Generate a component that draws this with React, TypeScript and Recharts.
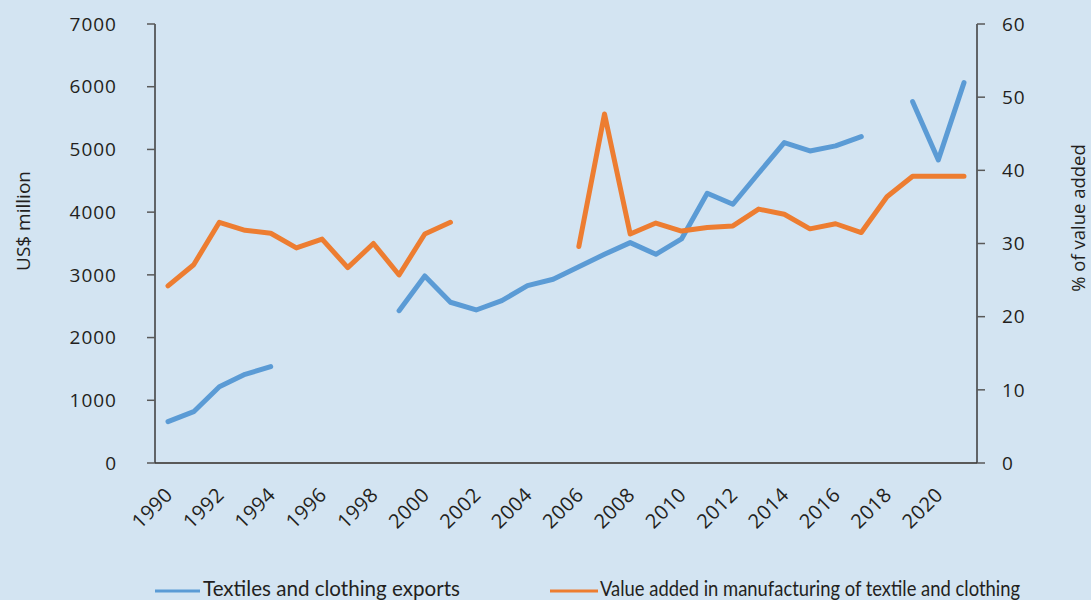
import React from 'react';
import { LineChart, Line, XAxis, YAxis, Legend } from 'recharts';

const years: string[] = [
  '1990', '1991', '1992', '1993', '1994', '1995', '1996', '1997', '1998', '1999',
  '2000', '2001', '2002', '2003', '2004', '2005', '2006', '2007', '2008', '2009',
  '2010', '2011', '2012', '2013', '2014', '2015', '2016', '2017', '2018', '2019',
  '2020', '2021',
];

const exportsUSD: (number | null)[] = [
  659, 818, 1217, 1414, 1536, null, null, null, null, 2429,
  2982, 2563, 2440, 2589, 2828, 2930, 3131, 3328, 3514, 3328,
  3573, 4302, 4126, 4620, 5109, 4976, 5056, 5204, null, 5762,
  4833, 6065,
];

const valueAddedPct: (number | null)[] = [
  24.2, 27.1, 32.9, 31.8, 31.4, 29.4, 30.6, 26.7, 30.0, 25.7,
  31.3, 32.9, null, null, null, null, 29.6, 47.7, 31.3, 32.8,
  31.7, 32.2, 32.4, 34.7, 34.0, 32.0, 32.7, 31.5, 36.4, 39.2,
  39.2, 39.2,
];

const leftTicks = [0, 1000, 2000, 3000, 4000, 5000, 6000, 7000];
const rightTicks = [0, 10, 20, 30, 40, 50, 60];

const seriesNames = [
  'Textiles and clothing exports',
  'Value added in manufacturing of textile and clothing',
];

const data = years.map((year, i) => ({
  year,
  exports: exportsUSD[i],
  valueAdded: valueAddedPct[i],
}));

const BG = '#d3e4f2';
const BLUE = '#5b9bd5';
const ORANGE = '#ed7d31';
const TEXT = '#231f20';
const AXIS = '#3a3a3a';
const FONT = '"Open Sans", sans-serif';

const XTick = (props: any) => {
  const { x, y, payload } = props;
  const ax = x + 6;
  const ay = y + 25;
  return (
    <text
      x={ax}
      y={ay}
      transform={`rotate(-45 ${ax} ${ay})`}
      textAnchor="end"
      fill={TEXT}
      fontSize={20}
      fontFamily={FONT}
      letterSpacing={0.5}
    >
      {payload.value}
    </text>
  );
};

const LegendContent = () => (
  <svg width={1091} height={40} style={{ display: 'block' }}>
    <line x1={155} x2={200} y1={21} y2={21} stroke={BLUE} strokeWidth={3} />
    <text x={203} y={26} fontFamily="Lato, sans-serif" fontSize={21} fill={TEXT} textLength={257} lengthAdjust="spacingAndGlyphs">
      {seriesNames[0]}
    </text>
    <line x1={550} x2={598} y1={21} y2={21} stroke={ORANGE} strokeWidth={3} />
    <text x={600} y={26} fontFamily="Lato, sans-serif" fontSize={21} fill={TEXT} textLength={420} lengthAdjust="spacingAndGlyphs">
      {seriesNames[1]}
    </text>
  </svg>
);

export default function App() {
  return (
    <div style={{ position: 'absolute', left: 0, top: 0, width: 1091, height: 600, background: BG, overflow: 'hidden' }}>
      <LineChart
        width={1091}
        height={600}
        data={data}
        margin={{ top: 24, right: 0, bottom: 0, left: 0 }}
      >
        <XAxis
          dataKey="year"
          interval={1}
          tickLine={false}
          padding={{ left: 13, right: 13 }}
          axisLine={{ stroke: '#595959', strokeWidth: 2 }}
          height={137}
          tick={<XTick />}
        />
        <YAxis
          yAxisId="left"
          orientation="left"
          width={155}
          domain={[0, 7000]}
          ticks={leftTicks}
          tickSize={8}
          tickMargin={30}
          axisLine={{ stroke: AXIS, strokeWidth: 1.5 }}
          tickLine={{ stroke: '#595959', strokeWidth: 1.5 }}
          tick={{ fill: TEXT, fontSize: 19, fontFamily: FONT, letterSpacing: 1 }}
          label={() => {
            const cy = 221;
            return (
              <text x={30} y={cy} transform={`rotate(-90 30 ${cy})`} textAnchor="middle" fill={TEXT} fontSize={19} fontFamily={FONT}>
                US$ million
              </text>
            );
          }}
        />
        <YAxis
          yAxisId="right"
          orientation="right"
          width={114}
          domain={[0, 60]}
          ticks={rightTicks}
          tickSize={8}
          tickMargin={17}
          axisLine={{ stroke: AXIS, strokeWidth: 1.5 }}
          tickLine={{ stroke: '#595959', strokeWidth: 1.5 }}
          tick={{ fill: TEXT, fontSize: 19, fontFamily: FONT, letterSpacing: 1 }}
          label={() => {
            const cy = 218;
            return (
              <text x={1085} y={cy} transform={`rotate(-90 1085 ${cy})`} textAnchor="middle" fill={TEXT} fontSize={18.5} fontFamily={FONT}>
                % of value added
              </text>
            );
          }}
        />
        <Legend
          layout="horizontal"
          verticalAlign="middle"
          align="center"
          wrapperStyle={{ top: 570, left: 0, width: 1091, height: 40 }}
          content={<LegendContent />}
        />
        <Line
          yAxisId="left"
          dataKey="exports"
          name={seriesNames[0]}
          stroke={BLUE}
          strokeWidth={5}
          strokeLinecap="round"
          strokeLinejoin="round"
          dot={false}
          activeDot={false}
          isAnimationActive={false}
        />
        <Line
          yAxisId="right"
          dataKey="valueAdded"
          name={seriesNames[1]}
          stroke={ORANGE}
          strokeWidth={5}
          strokeLinecap="round"
          strokeLinejoin="round"
          dot={false}
          activeDot={false}
          isAnimationActive={false}
        />
      </LineChart>
    </div>
  );
}
